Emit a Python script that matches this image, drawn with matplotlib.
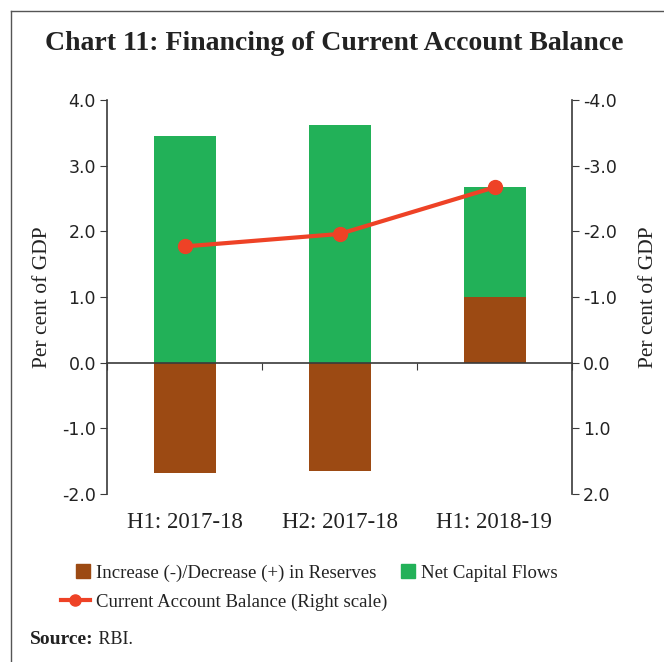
import matplotlib
matplotlib.use("Agg")
import numpy as np
from matplotlib import pyplot as plt
from matplotlib import patches as mpatches
from matplotlib.lines import Line2D
from matplotlib.legend_handler import HandlerPatch

categories = ["H1: 2017-18", "H2: 2017-18", "H1: 2018-19"]
reserves = [-1.68, -1.65, 1.0]          # Increase (-)/Decrease (+) in Reserves
net_capital = [3.45, 3.62, 1.67]        # Net Capital Flows
cab = [-1.77, -1.96, -2.67]             # Current Account Balance (right scale)
left_ticks = [-2.0, -1.0, 0.0, 1.0, 2.0, 3.0, 4.0]
right_ticks = [2.0, 1.0, 0.0, -1.0, -2.0, -3.0, -4.0]

brown = "#9C4A13"
green = "#22B158"
red = "#EE4226"
axis_col = "#3a3a3a"
txt_col = "#222222"
serif = "Liberation Serif"

fig = plt.figure(figsize=(6.64, 6.62), dpi=100)
ax = fig.add_axes([107/664, 1-494/662, 465/664, 394/662])

x = np.arange(len(categories))
res = np.array(reserves)
# green sits on top of positive reserves, otherwise starts at zero
bottoms = np.where(res > 0, res, 0)
ax.bar(x, reserves, width=0.4, color=brown, zorder=2)
ax.bar(x, net_capital, width=0.4, bottom=bottoms, color=green, zorder=2)

ax.set_xlim(-0.5, 2.5)
ax.set_ylim(-2, 4)
ax.set_yticks(left_ticks)
ax.set_yticklabels([f"{t:.1f}" for t in left_ticks])
ax.tick_params(axis="y", direction="out", length=5, color=axis_col,
               labelsize=12.5, pad=3, labelcolor=txt_col)
ax.spines["top"].set_visible(False)
ax.spines["right"].set_visible(False)
ax.spines["bottom"].set_position(("data", 0))
for s in ["left", "bottom"]:
    ax.spines[s].set_color(axis_col)
    ax.spines[s].set_linewidth(1.2)
ax.set_xticks([-0.5, 0.5, 1.5, 2.5])
ax.set_xticklabels([])
ax.tick_params(axis="x", direction="out", length=5, color=axis_col)
for xi, lab in zip(x, categories):
    ax.text(xi, -0.072, lab, transform=ax.get_xaxis_transform(),
            ha="center", va="center", fontsize=16.5, family=serif,
            color=txt_col)
ax.set_ylabel("Per cent of GDP", family=serif, fontsize=15.5,
              color=txt_col, labelpad=7)

ax2 = ax.twinx()
ax2.plot(x, cab, color=red, lw=3, marker="o", markersize=10, zorder=3)
ax2.set_ylim(2, -4)
ax2.set_yticks(right_ticks)
ax2.set_yticklabels([f"{t:.1f}" for t in right_ticks])
ax2.tick_params(axis="y", direction="out", length=5, color=axis_col,
                labelsize=12.5, pad=3, labelcolor=txt_col)
for s in ["top", "left", "bottom"]:
    ax2.spines[s].set_visible(False)
ax2.spines["right"].set_color(axis_col)
ax2.spines["right"].set_linewidth(1.2)
ax2.set_ylabel("Per cent of GDP", family=serif, fontsize=15.5,
               color=txt_col, labelpad=16)

fig.text(334/664, 1-44/662, "Chart 11: Financing of Current Account Balance",
         ha="center", va="center", fontsize=20, fontweight="bold",
         family=serif, color=txt_col)


def square(legend, orig_handle, xdescent, ydescent, width, height, fontsize):
    s = 10
    return mpatches.Rectangle((width - xdescent - s, -ydescent + (height - s) / 2), s, s)


h_res = mpatches.Patch(color=brown, label="Increase (-)/Decrease (+) in Reserves")
h_net = mpatches.Patch(color=green, label="Net Capital Flows")
h_cab = Line2D([], [], color=red, lw=3, marker="o", markersize=8,
               label="Current Account Balance (Right scale)")
leg = fig.legend(handles=[h_res, h_cab, h_net], ncol=2, frameon=False,
                 loc="upper left", bbox_to_anchor=(52/664, 1-555/662),
                 prop={"family": serif, "size": 13.5}, handlelength=1.5,
                 handletextpad=0.32, columnspacing=0.0, labelspacing=0.62,
                 borderpad=0,
                 handler_map={mpatches.Patch: HandlerPatch(patch_func=square)})
for t in leg.get_texts():
    t.set_color(txt_col)

src = fig.text(30/664, 1-640/662, "Source:", fontsize=14, family=serif,
               fontweight="bold", va="center", color=txt_col)
plt.annotate(" RBI.", xy=(1, 0.5), xycoords=src, va="center", ha="left",
             fontsize=13, family=serif, color=txt_col)

# figure frame (left and top edges)
fig.add_artist(Line2D([11/664, 11/664], [0, 1-11/662], transform=fig.transFigure,
                      color="#555555", lw=1))
fig.add_artist(Line2D([11/664, 1], [1-11/662, 1-11/662], transform=fig.transFigure,
                      color="#555555", lw=1))

fig.savefig("out.png", dpi=100)
